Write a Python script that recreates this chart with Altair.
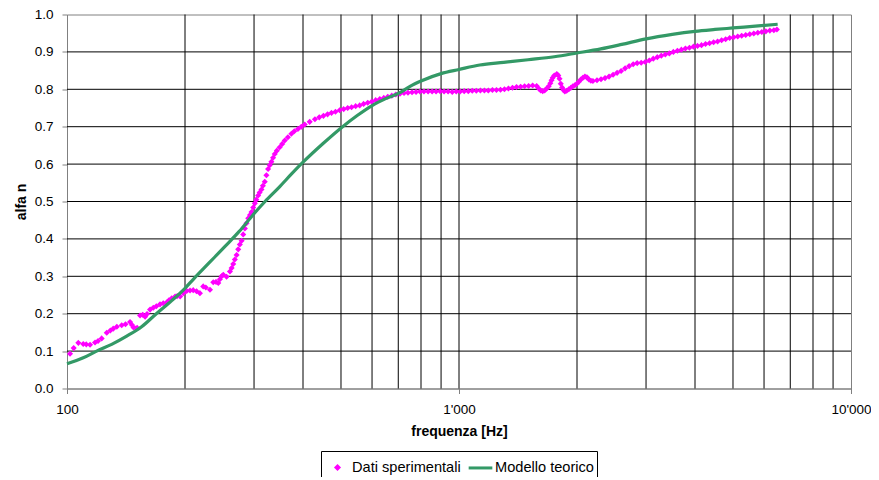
import altair as alt
import pandas as pd

# ---- data ----
dati_f = [101.8, 104, 106.9, 110, 112, 114.5, 117.9, 120, 122.6, 126.3, 129, 131.2, 134, 137.9, 141, 144.8,
          146.5, 147.8, 150, 151.1, 153.6, 156, 158.2, 160, 162.9, 166, 169, 172.7, 176, 179.5, 182, 185,
          188.7, 191, 194.3, 198, 202, 206, 209.9, 214, 218.3, 222.6, 226, 231.6, 236.1, 240, 243.2, 245.5,
          248, 250.4, 255.3, 260.4, 263, 265.5, 268, 270.8, 273.4, 276, 278.9, 281.5, 284.3, 287, 290, 293,
          295.6, 298.5, 301.4, 304, 307.3, 310, 313.4, 316, 319.5, 322.6, 325.8, 329, 332.2, 335.5, 338.8,
          343, 348.8, 354, 359.3, 366, 373.6, 380, 388.3, 396, 404, 416, 429, 440,
          451, 462, 473, 484, 496, 508, 520, 532, 545, 558, 571, 585, 599, 613, 628, 643, 658, 674, 690,
          707, 724, 741, 759, 777, 795, 814, 834, 854, 874, 895, 916, 938, 961, 984, 1007, 1031, 1056,
          1081, 1107, 1134, 1161, 1188, 1217, 1246, 1276, 1306, 1337, 1369, 1402, 1436, 1470, 1505, 1541,
          1578, 1597, 1616, 1635, 1654, 1674, 1694, 1710, 1722, 1734, 1750, 1776, 1792, 1805, 1818, 1832,
          1846, 1862, 1882, 1906, 1930, 1952, 1975, 1998, 2022, 2046, 2070, 2095, 2120, 2145, 2170, 2196,
          2249, 2303, 2358, 2414, 2472, 2531, 2591, 2653, 2717, 2782, 2848, 2916, 2986, 3057, 3130, 3205,
          3282, 3360, 3440, 3523, 3607, 3693, 3781, 3871, 3964, 4059, 4156, 4255, 4357, 4461, 4567, 4676,
          4788, 4903, 5020, 5140, 5262, 5388, 5517, 5649, 5784, 5922, 6063, 6208, 6356, 6470]
dati_a = [0.093, 0.108, 0.122, 0.119, 0.118, 0.117, 0.123, 0.127, 0.134, 0.149, 0.155, 0.160, 0.165, 0.169,
          0.172, 0.178, 0.170, 0.163, 0.161, 0.162, 0.195, 0.197, 0.192, 0.199, 0.211, 0.216, 0.220, 0.225,
          0.228, 0.230, 0.236, 0.241, 0.246, 0.247, 0.246, 0.255, 0.261, 0.262, 0.263, 0.260, 0.255, 0.273,
          0.270, 0.264, 0.284, 0.285, 0.282, 0.292, 0.300, 0.304, 0.299, 0.313, 0.322, 0.333, 0.345, 0.357,
          0.372, 0.385, 0.395, 0.412, 0.428, 0.442, 0.455, 0.464, 0.472, 0.484, 0.495, 0.505, 0.516, 0.524,
          0.532, 0.542, 0.553, 0.570, 0.587, 0.597, 0.606, 0.617, 0.627, 0.636, 0.645, 0.654, 0.663, 0.672,
          0.681, 0.688, 0.694, 0.700, 0.706, 0.713, 0.720, 0.725,
          0.729, 0.733, 0.737, 0.740, 0.744, 0.747, 0.750, 0.752, 0.755, 0.757, 0.761, 0.764, 0.767, 0.771,
          0.774, 0.777, 0.780, 0.783, 0.786, 0.788, 0.790, 0.791, 0.792, 0.793, 0.794, 0.794, 0.794, 0.794,
          0.794, 0.795, 0.794, 0.794, 0.793, 0.794, 0.794, 0.795, 0.795, 0.796, 0.796, 0.797, 0.797, 0.797,
          0.798, 0.798, 0.799, 0.800, 0.802, 0.804, 0.806, 0.807, 0.808, 0.809, 0.810,
          0.809, 0.802, 0.797, 0.795, 0.797, 0.802, 0.808, 0.816, 0.824, 0.831, 0.837, 0.841, 0.837, 0.828,
          0.815, 0.805, 0.798, 0.794, 0.796, 0.800, 0.804, 0.808, 0.811, 0.815, 0.820, 0.826, 0.831, 0.834,
          0.832, 0.826, 0.823, 0.822,
          0.824, 0.827, 0.830, 0.834, 0.839, 0.844, 0.849, 0.856, 0.862, 0.867, 0.870, 0.871, 0.873, 0.877,
          0.882, 0.886, 0.890, 0.893, 0.896, 0.900, 0.903, 0.906, 0.909, 0.911, 0.914, 0.916, 0.918, 0.921,
          0.923, 0.926, 0.928, 0.931, 0.934, 0.937, 0.939, 0.941, 0.943, 0.945, 0.947, 0.949, 0.951, 0.953,
          0.955, 0.957, 0.958, 0.960]

modello_f = [100, 110, 119, 130, 142, 155, 169, 185, 200, 210, 230, 253, 275, 298, 320, 349, 375, 400, 450,
             502, 550, 599, 650, 707, 750, 803, 900, 1000, 1130, 1300, 1500, 1750, 2000, 2300, 2600, 3000,
             3500, 4000, 4500, 5000, 5700, 6500]
modello_a = [0.066, 0.082, 0.100, 0.118, 0.140, 0.165, 0.200, 0.235, 0.268, 0.292, 0.335, 0.380, 0.420,
             0.464, 0.500, 0.540, 0.575, 0.605, 0.655, 0.698, 0.730, 0.756, 0.775, 0.791, 0.808, 0.823,
             0.842, 0.853, 0.865, 0.872, 0.879, 0.887, 0.897, 0.908, 0.920, 0.935, 0.947, 0.955, 0.960,
             0.964, 0.969, 0.974]

series_names = ["Dati sperimentali", "Modello teorico"]
x_grid_freqs = [200, 300, 400, 500, 600, 700, 800, 900, 1000, 2000, 3000, 4000, 5000, 6000, 7000,
                8000, 9000]
y_grid_values = [0.1, 0.2, 0.3, 0.4, 0.5, 0.6, 0.7, 0.8, 0.9]
x_tick_values = [100, 1000, 10000]
y_tick_values = [0.0, 0.1, 0.2, 0.3, 0.4, 0.5, 0.6, 0.7, 0.8, 0.9, 1.0]

df_dati = pd.DataFrame({"f": dati_f, "a": dati_a, "serie": series_names[0]})
df_mod = pd.DataFrame({"f": modello_f, "a": modello_a, "serie": series_names[1]})
df_xgrid = pd.DataFrame({"f": x_grid_freqs})
df_ygrid = pd.DataFrame({"a": y_grid_values})

FONT = "Liberation Sans"
MAGENTA = "#FF00FF"
GREEN = "#339966"
SMALL_DIAMOND = "M0,-0.12L0.12,0L0,0.12L-0.12,0Z"
SYM_SIZE = 560

xscale = alt.Scale(type="log", domain=[100, 10000], nice=False)
yscale = alt.Scale(domain=[0, 1], nice=False)

xaxis = alt.Axis(values=x_tick_values, grid=False, title="frequenza [Hz]",
                 labelExpr="datum.value == 1000 ? \"1'000\" : datum.value == 10000 ? \"10'000\" : \"100\"",
                 tickSize=5, labelPadding=9, titlePadding=8, labelFlush=False)
yaxis = alt.Axis(values=y_tick_values, format=".1f", title="alfa n", grid=False,
                 tickSize=5, labelPadding=9, titlePadding=6)

legend = alt.Legend(
    title=None, orient="none", legendX=254, legendY=436.5, direction="horizontal",
    strokeColor="black", padding=3, labelFont=FONT, labelFontSize=14.6, labelColor="black",
    symbolSize=SYM_SIZE, symbolStrokeWidth=3, columnPadding=1, labelOffset=1,
)
color = alt.Color("serie:N", scale=alt.Scale(domain=series_names, range=[MAGENTA, GREEN]), legend=legend)
shape = alt.Shape("serie:N", scale=alt.Scale(domain=series_names, range=[SMALL_DIAMOND, "stroke"]),
                  legend=legend)

xgrid = alt.Chart(df_xgrid).mark_rule(color="black", strokeWidth=1).encode(
    x=alt.X("f:Q", scale=xscale, axis=xaxis)
)
ygrid = alt.Chart(df_ygrid).mark_rule(color="black", strokeWidth=1).encode(
    y=alt.Y("a:Q", scale=yscale, axis=yaxis)
)

points = alt.Chart(df_dati).mark_point(filled=False, size=SYM_SIZE, strokeWidth=2.3, opacity=1).encode(
    x=alt.X("f:Q", scale=xscale, axis=xaxis),
    y=alt.Y("a:Q", scale=yscale, axis=yaxis),
    color=color, shape=shape,
)

line = alt.Chart(df_mod).mark_line(strokeWidth=3.2, interpolate="monotone").encode(
    x=alt.X("f:Q", scale=xscale, axis=xaxis),
    y=alt.Y("a:Q", scale=yscale, axis=yaxis),
    color=color,
)

chart = alt.layer(xgrid, ygrid, points, line).properties(
    width=784, height=374,
    background="white",
    autosize=alt.AutoSizeParams(type="none"),
    padding={"left": 59, "top": 6.5, "right": 20, "bottom": 88},
).configure_view(stroke="#808080", strokeWidth=1).configure_axis(
    labelFont=FONT, labelFontSize=13.5, labelColor="black",
    titleFont=FONT, titleFontSize=14, titleFontWeight="bold", titleColor="black",
    domainColor="#808080", tickColor="#808080",
)

chart.save("out.html", embed_options={"renderer": "svg", "actions": False})
